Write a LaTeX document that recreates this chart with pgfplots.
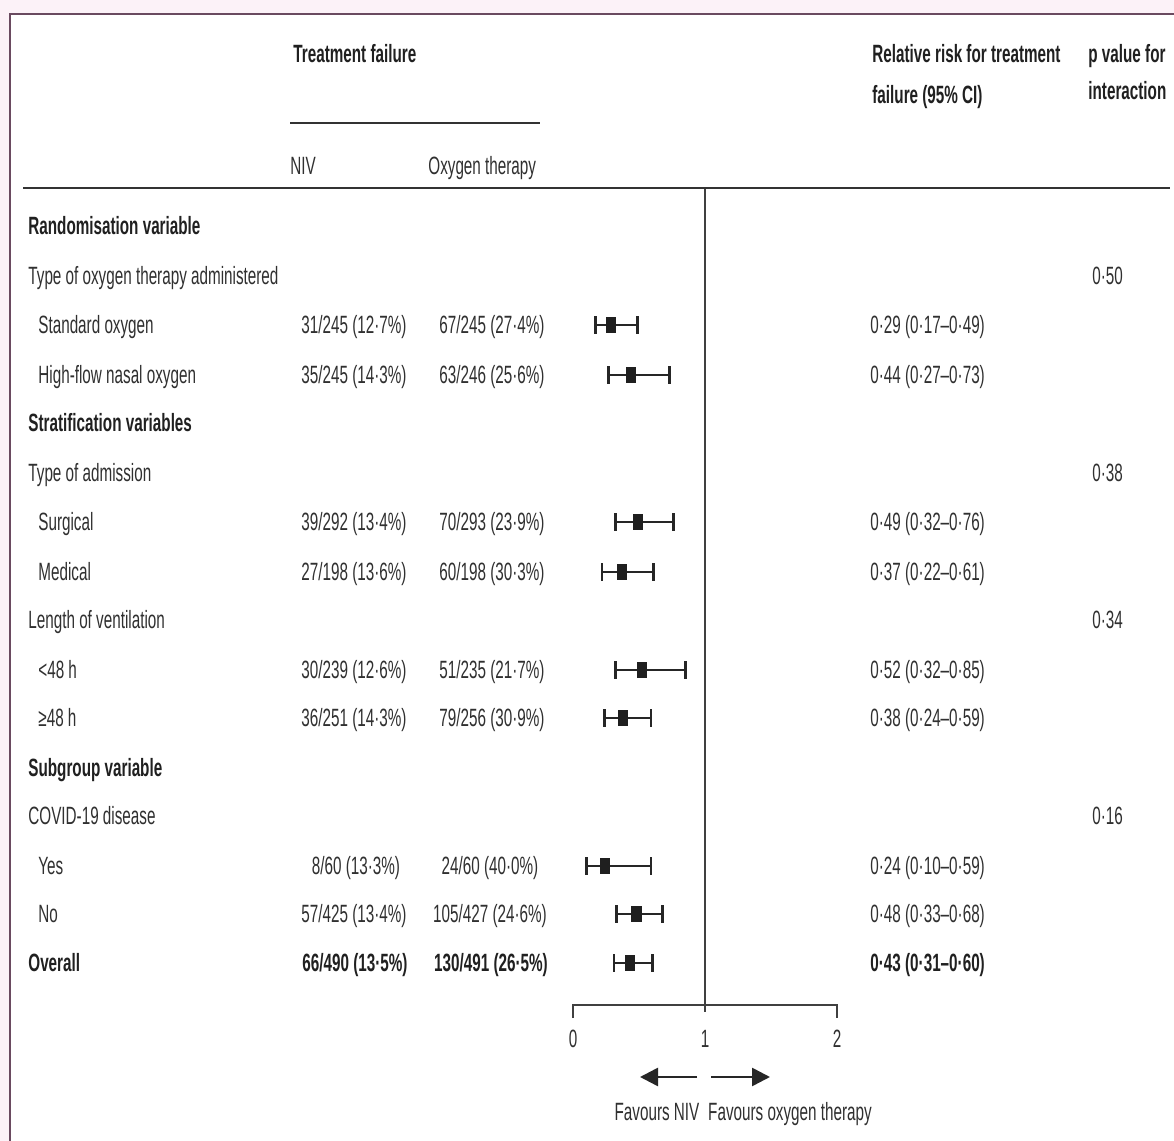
\documentclass[border=0pt]{standalone}
\usepackage{pgfplots}
\pgfplotsset{compat=1.18}
\usepackage{pgfplotstable}
\usepackage{fontspec}
\setmainfont{Liberation Sans}[FakeStretch=0.61]
\usetikzlibrary{arrows.meta}

\definecolor{txt}{HTML}{303030}
\definecolor{hdr}{HTML}{202020}
\definecolor{frame}{HTML}{6A4A60}
\definecolor{pinkbg}{HTML}{FCF2F8}

% tall filled rectangle used as point estimate
\pgfdeclareplotmark{tallsq}{%
  \pgfpathrectangle{\pgfpoint{-2.3pt}{-3.8pt}}{\pgfpoint{4.6pt}{7.6pt}}%
  \pgfusepathqfillstroke}

% relative risk, 95% CI, row position (pixels from top)
\pgfplotstableread{
rr    lo    hi    y
0.29  0.17  0.49  325
0.44  0.27  0.73  375
0.49  0.32  0.76  522
0.37  0.22  0.61  572
0.52  0.32  0.85  670
0.38  0.24  0.59  718
0.24  0.10  0.59  866
0.48  0.33  0.68  914
0.43  0.31  0.60  963
}\forest

\begin{document}
\begin{tikzpicture}[font=\fontsize{12.5}{15}\selectfont, every node/.style={inner sep=0pt, text=txt}]
\useasboundingbox (0,0) rectangle (587pt,570.5pt);
\fill[white] (0,0) rectangle (587pt,570.5pt);

\begin{axis}[
    at={(0,0)}, anchor=south west,
    scale only axis,
    width=587pt, height=570.5pt,
    xmin=-4.3409, xmax=4.5530,
    ymin=0, ymax=1141, y dir=reverse,
    hide axis, clip=false,
]
% line of no effect and scale
\addplot[line width=0.9pt, black!75] coordinates {(1,188) (1,1012)};
\addplot[line width=0.9pt, black!75] coordinates {(0,1018) (0,1005) (2,1005) (2,1018)};

\addplot[only marks, mark=tallsq,
    mark options={fill=black!88, draw=black!88, line width=0.4pt},
    error bars/.cd, x dir=both, x explicit,
    error mark=|,
    error bar style={line width=1.3pt, black!85},
    error mark options={mark size=4.3pt, line width=1.3pt, black!85}]
  table[x=rr, y=y,
        x error plus expr=\thisrow{hi}-\thisrow{rr},
        x error minus expr=\thisrow{rr}-\thisrow{lo}] {\forest};

\node[anchor=base] at (axis cs:0,1047) {0};
\node[anchor=base] at (axis cs:1,1047) {1};
\node[anchor=base] at (axis cs:2,1047) {2};
\end{axis}

\begin{scope}[shift={(0,570.5pt)}, x=0.5pt, y=-0.5pt]
% frame
\fill[pinkbg] (0,0) rectangle (1174,13);
\fill[pinkbg] (0,0) rectangle (9,1141);
\draw[frame, line width=1.3pt] (10,1141) -- (10,14) -- (1174,14);

% header
\node[anchor=base west, text=hdr, font=\fontsize{12.5}{15}\selectfont\bfseries] at (293,63) {Treatment failure};
\draw[black!80, line width=1pt] (290,123) -- (540,123);
\node[anchor=base west] at (290,175) {NIV};
\node[anchor=base west] at (428,175) {Oxygen therapy};
\node[anchor=base west, text=hdr, font=\fontsize{12.5}{15}\selectfont\bfseries] at (872,63) {Relative risk for treatment};
\node[anchor=base west, text=hdr, font=\fontsize{12.5}{15}\selectfont\bfseries] at (872,104) {failure (95\% CI)};
\node[anchor=base west, text=hdr, font=\fontsize{12.5}{15}\selectfont\bfseries] at (1088,63) {p value for};
\node[anchor=base west, text=hdr, font=\fontsize{12.5}{15}\selectfont\bfseries] at (1088,100) {interaction};
\draw[black!80, line width=1pt] (23,188) -- (1170,188);

% row labels
\begin{scope}[every node/.append style={anchor=base west}]
\node[text=hdr, font=\fontsize{12.5}{15}\selectfont\bfseries] at (28,235) {Randomisation variable};
\node at (28,285) {Type of oxygen therapy administered};
\node at (38,334) {Standard oxygen};
\node at (38,384) {High-flow nasal oxygen};
\node[text=hdr, font=\fontsize{12.5}{15}\selectfont\bfseries] at (28,432) {Stratification variables};
\node at (28,482) {Type of admission};
\node at (38,531) {Surgical};
\node at (38,581) {Medical};
\node at (28,629) {Length of ventilation};
\node at (38,679) {<48 h};
\node at (38,727) {≥48 h};
\node[text=hdr, font=\fontsize{12.5}{15}\selectfont\bfseries] at (28,777) {Subgroup variable};
\node at (28,825) {COVID-19 disease};
\node at (38,875) {Yes};
\node at (38,923) {No};
\node[text=hdr, font=\fontsize{12.5}{15}\selectfont\bfseries] at (28,972) {Overall};

% relative risk column
\node at (870,334) {0·29 (0·17–0·49)};
\node at (870,384) {0·44 (0·27–0·73)};
\node at (870,531) {0·49 (0·32–0·76)};
\node at (870,581) {0·37 (0·22–0·61)};
\node at (870,679) {0·52 (0·32–0·85)};
\node at (870,727) {0·38 (0·24–0·59)};
\node at (870,875) {0·24 (0·10–0·59)};
\node at (870,923) {0·48 (0·33–0·68)};
\node[text=hdr, font=\fontsize{12.5}{15}\selectfont\bfseries] at (870,972) {0·43 (0·31–0·60)};

% p values
\node at (1092,285) {0·50};
\node at (1092,482) {0·38};
\node at (1092,629) {0·34};
\node at (1092,825) {0·16};
\end{scope}

% event counts
\begin{scope}[every node/.append style={anchor=base}]
\node at (354,334) {31/245 (12·7\%)};   \node at (492,334) {67/245 (27·4\%)};
\node at (354,384) {35/245 (14·3\%)};   \node at (492,384) {63/246 (25·6\%)};
\node at (354,531) {39/292 (13·4\%)};   \node at (492,531) {70/293 (23·9\%)};
\node at (354,581) {27/198 (13·6\%)};   \node at (492,581) {60/198 (30·3\%)};
\node at (354,679) {30/239 (12·6\%)};   \node at (492,679) {51/235 (21·7\%)};
\node at (354,727) {36/251 (14·3\%)};   \node at (492,727) {79/256 (30·9\%)};
\node at (356,875) {8/60 (13·3\%)};     \node at (490,875) {24/60 (40·0\%)};
\node at (354,923) {57/425 (13·4\%)};   \node at (490,923) {105/427 (24·6\%)};
\node[text=hdr, font=\fontsize{12.5}{15}\selectfont\bfseries] at (355,972) {66/490 (13·5\%)};
\node[text=hdr, font=\fontsize{12.5}{15}\selectfont\bfseries] at (491,972) {130/491 (26·5\%)};
\end{scope}

% direction arrows
\draw[black!85, line width=1.3pt, -{Triangle[length=9pt, width=9pt]}] (697,1077) -- (640,1077);
\draw[black!85, line width=1.3pt, -{Triangle[length=9pt, width=9pt]}] (711,1077) -- (770,1077);
\node[anchor=base] at (657,1121) {Favours NIV};
\node[anchor=base] at (790,1121) {Favours oxygen therapy};
\end{scope}
\end{tikzpicture}
\end{document}
